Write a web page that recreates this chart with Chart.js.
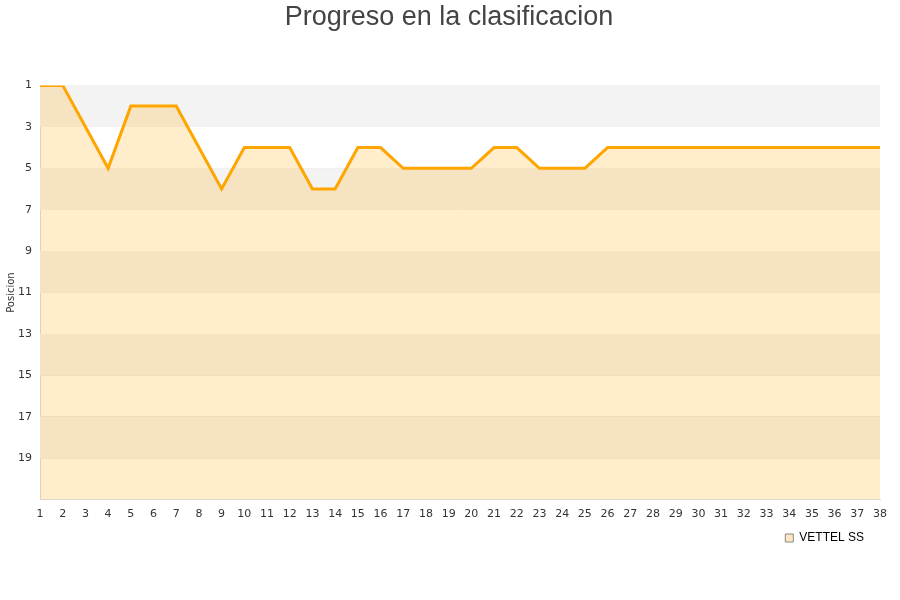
<!DOCTYPE html>
<html>
<head>
<meta charset="utf-8">
<script src="https://cdn.jsdelivr.net/npm/chart.js@4"></script>
<style>
  html, body { margin: 0; padding: 0; background: #fff; }
  #wrap { width: 900px; height: 600px; }
</style>
</head>
<body>
<div id="wrap"><canvas id="grafico"></canvas></div>
<script>
// carreras / jornadas
const carreras = [];
for (let i = 1; i <= 38; i++) carreras.push(String(i));

// posicion en cada jornada
const posiciones = [1, 1, 3, 5, 2, 2, 2, 4, 6, 4, 4, 4, 6, 6, 4, 4, 5, 5, 5, 5,
                    4, 4, 5, 5, 5, 4, 4, 4, 4, 4, 4, 4, 4, 4, 4, 4, 4, 4];

const piloto = 'VETTEL SS';
const posMin = 1;
const posMax = 21;

// franjas grises de fondo (una si, una no)
const franjas = {
    id: 'franjas',
    afterLayout(chart) {
        // leyenda un poco mas a la izquierda, titulo centrado en el lienzo
        if (chart.legend) chart.legend.right -= 13;
        if (chart.titleBlock) {
            chart.titleBlock.left += 9;
            chart.titleBlock.right += 9;
        }
    },
    beforeDatasetsDraw(chart) {
        const { ctx, chartArea, scales } = chart;
        const y = scales.y;
        ctx.save();
        for (let v = posMin; v < posMax; v += 4) {
            const y1 = y.getPixelForValue(v);
            const y2 = y.getPixelForValue(Math.min(v + 2, posMax));
            ctx.fillStyle = '#f3f3f3';
            ctx.fillRect(chartArea.left, y1, chartArea.right - chartArea.left, y2 - y1);
        }
        ctx.restore();
    }
};

const ctx = document.getElementById('grafico').getContext('2d');
new Chart(ctx, {
    type: 'line',
    data: {
        labels: carreras,
        datasets: [{
            label: piloto,
            data: posiciones,
            borderColor: '#ffa500',
            backgroundColor: 'rgba(255,165,0,0.2)',
            borderWidth: 3,
            pointRadius: 0,
            tension: 0,
            fill: { value: posMax }
        }]
    },
    options: {
        responsive: true,
        maintainAspectRatio: false,
        animation: false,
        layout: { padding: { left: 0, right: 20, top: 0, bottom: 46 } },
        plugins: {
            title: {
                display: true,
                text: 'Progreso en la clasificacion',
                color: '#444',
                font: { family: 'Liberation Sans, Arial', size: 27, weight: 'normal' },
                padding: { top: 1, bottom: 52 }
            },
            legend: {
                position: 'bottom',
                align: 'end',
                labels: {
                    boxWidth: 8,
                    boxHeight: 8,
                    padding: 3,
                    color: '#000',
                    font: { family: 'Liberation Sans, Arial', size: 12 },
                    generateLabels(chart) {
                        return [{
                            text: piloto,
                            fillStyle: '#fde6c0',
                            strokeStyle: '#888',
                            lineWidth: 1,
                            datasetIndex: 0
                        }];
                    }
                }
            },
            tooltip: { enabled: false }
        },
        scales: {
            x: {
                offset: false,
                grid: { display: false, drawTicks: false },
                border: { color: '#ddd' },
                ticks: {
                    autoSkip: false,
                    maxRotation: 0,
                    color: '#333',
                    padding: 8,
                    font: { family: 'DejaVu Sans', size: 11 }
                }
            },
            y: {
                reverse: true,
                min: posMin,
                max: posMax,
                afterFit(scale) { scale.width = 40; },
                grid: { color: 'rgba(0,0,0,0.09)', drawTicks: false },
                border: { color: '#ddd' },
                ticks: {
                    stepSize: 2,
                    color: '#333',
                    padding: 8,
                    font: { family: 'DejaVu Sans', size: 11 },
                    callback: (v) => (v >= posMax ? '' : v)
                },
                title: {
                    display: true,
                    text: 'Posicion',
                    color: '#333',
                    padding: { top: 5, bottom: 0 },
                    font: { family: 'DejaVu Sans', size: 10 }
                }
            }
        }
    },
    plugins: [franjas]
});
</script>
</body>
</html>
